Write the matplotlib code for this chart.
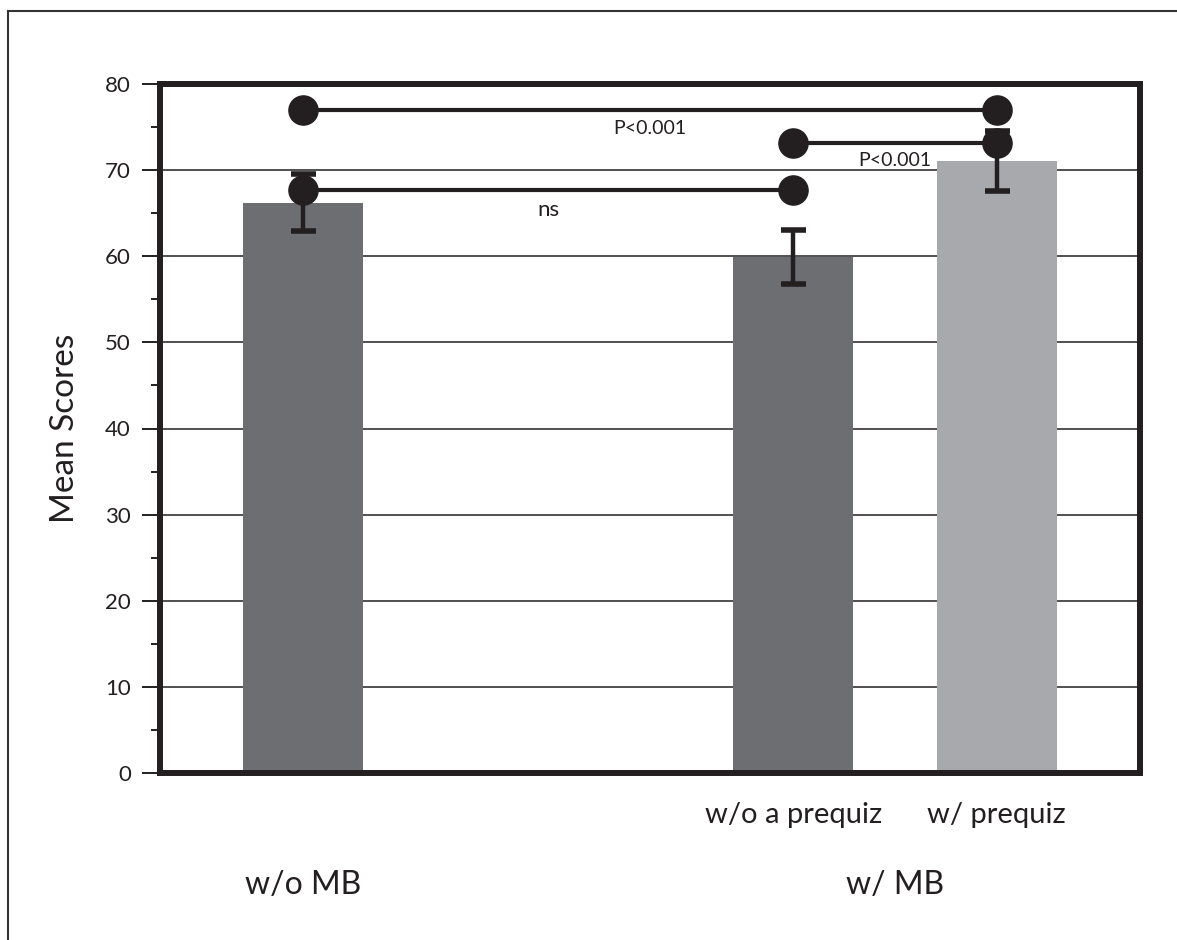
import matplotlib
matplotlib.use('Agg')
import matplotlib.pyplot as plt
import matplotlib.transforms as mtransforms
from matplotlib.lines import Line2D

plt.rcParams['font.family'] = ['Lato', 'DejaVu Sans']

# data
conditions = ['', 'w/o a prequiz', 'w/ prequiz']
groups = ['w/o MB', 'w/ MB']
means = [66.2, 59.9, 71.1]
errors = [3.3, 3.1, 3.5]
bar_colors = ['#6d6e71', '#6d6e71', '#a7a9ac']

# significance comparisons: (bar a, bar b, height, label)
comp_a = [0, 1, 0]
comp_b = [2, 2, 1]
comp_y = [77.0, 73.2, 67.7]
comp_labels = ['P<0.001', 'P<0.001', 'ns']

yticks = [0, 10, 20, 30, 40, 50, 60, 70, 80]

ink = '#231f20'
xpos = [0, 2.414, 3.414]
group_x = [0, 2.914]

fig = plt.figure(figsize=(11.77, 9.4), dpi=100)
ax = fig.add_axes([160 / 1177, 167 / 940, 980 / 1177, 689 / 940])

ax.set_axisbelow(True)
for v in yticks[1:-1]:
    ax.axhline(v, color=ink, lw=1.1, zorder=0)

ax.bar(xpos, means, width=0.59, color=bar_colors, zorder=2)
ax.errorbar(xpos, means, yerr=errors, fmt='none', ecolor=ink,
            elinewidth=3.2, capsize=9, capthick=4, zorder=3)

for a, b, y, lab in zip(comp_a, comp_b, comp_y, comp_labels):
    ax.plot([xpos[a], xpos[b]], [y, y], color=ink, lw=3.0, zorder=4,
            marker='o', markersize=21, markerfacecolor=ink,
            markeredgecolor=ink)
    fs = 16 if lab == 'ns' else 14
    ax.annotate(lab, xy=((xpos[a] + xpos[b]) / 2, y), xytext=(0, -7),
                textcoords='offset points', ha='center', va='top',
                fontsize=fs, color=ink, zorder=5)

ax.set_xlim(-0.704, 4.12)
ax.set_ylim(0, 80)
ax.set_yticks(yticks)
ax.set_yticks(range(5, 80, 10), minor=True)
ax.set_xticks([])
ax.tick_params(axis='y', which='major', length=13, width=1.4, color=ink,
               labelsize=16, labelcolor=ink, pad=8)
ax.tick_params(axis='y', which='minor', length=6.5, width=1.4, color=ink)
for s in ax.spines.values():
    s.set_linewidth(4.3)
    s.set_color(ink)
ax.set_ylabel('Mean Scores', fontsize=24, color=ink, labelpad=18)

trans = mtransforms.blended_transform_factory(ax.transData, fig.transFigure)
for x, lab in zip(xpos, conditions):
    ax.text(x, 1 - 815 / 940, lab, transform=trans, ha='center',
            va='center', fontsize=21, color=ink)
for x, lab in zip(group_x, groups):
    ax.text(x, 1 - 885 / 940, lab, transform=trans, ha='center',
            va='center', fontsize=23, color=ink)

# outer frame of the figure
fig.add_artist(Line2D([8 / 1177, 8 / 1177], [0, 1 - 11 / 940],
                      transform=fig.transFigure, color='#333333', lw=1.5))
fig.add_artist(Line2D([8 / 1177, 1], [1 - 11 / 940, 1 - 11 / 940],
                      transform=fig.transFigure, color='#333333', lw=1.5))

fig.savefig('out.png', dpi=100)
